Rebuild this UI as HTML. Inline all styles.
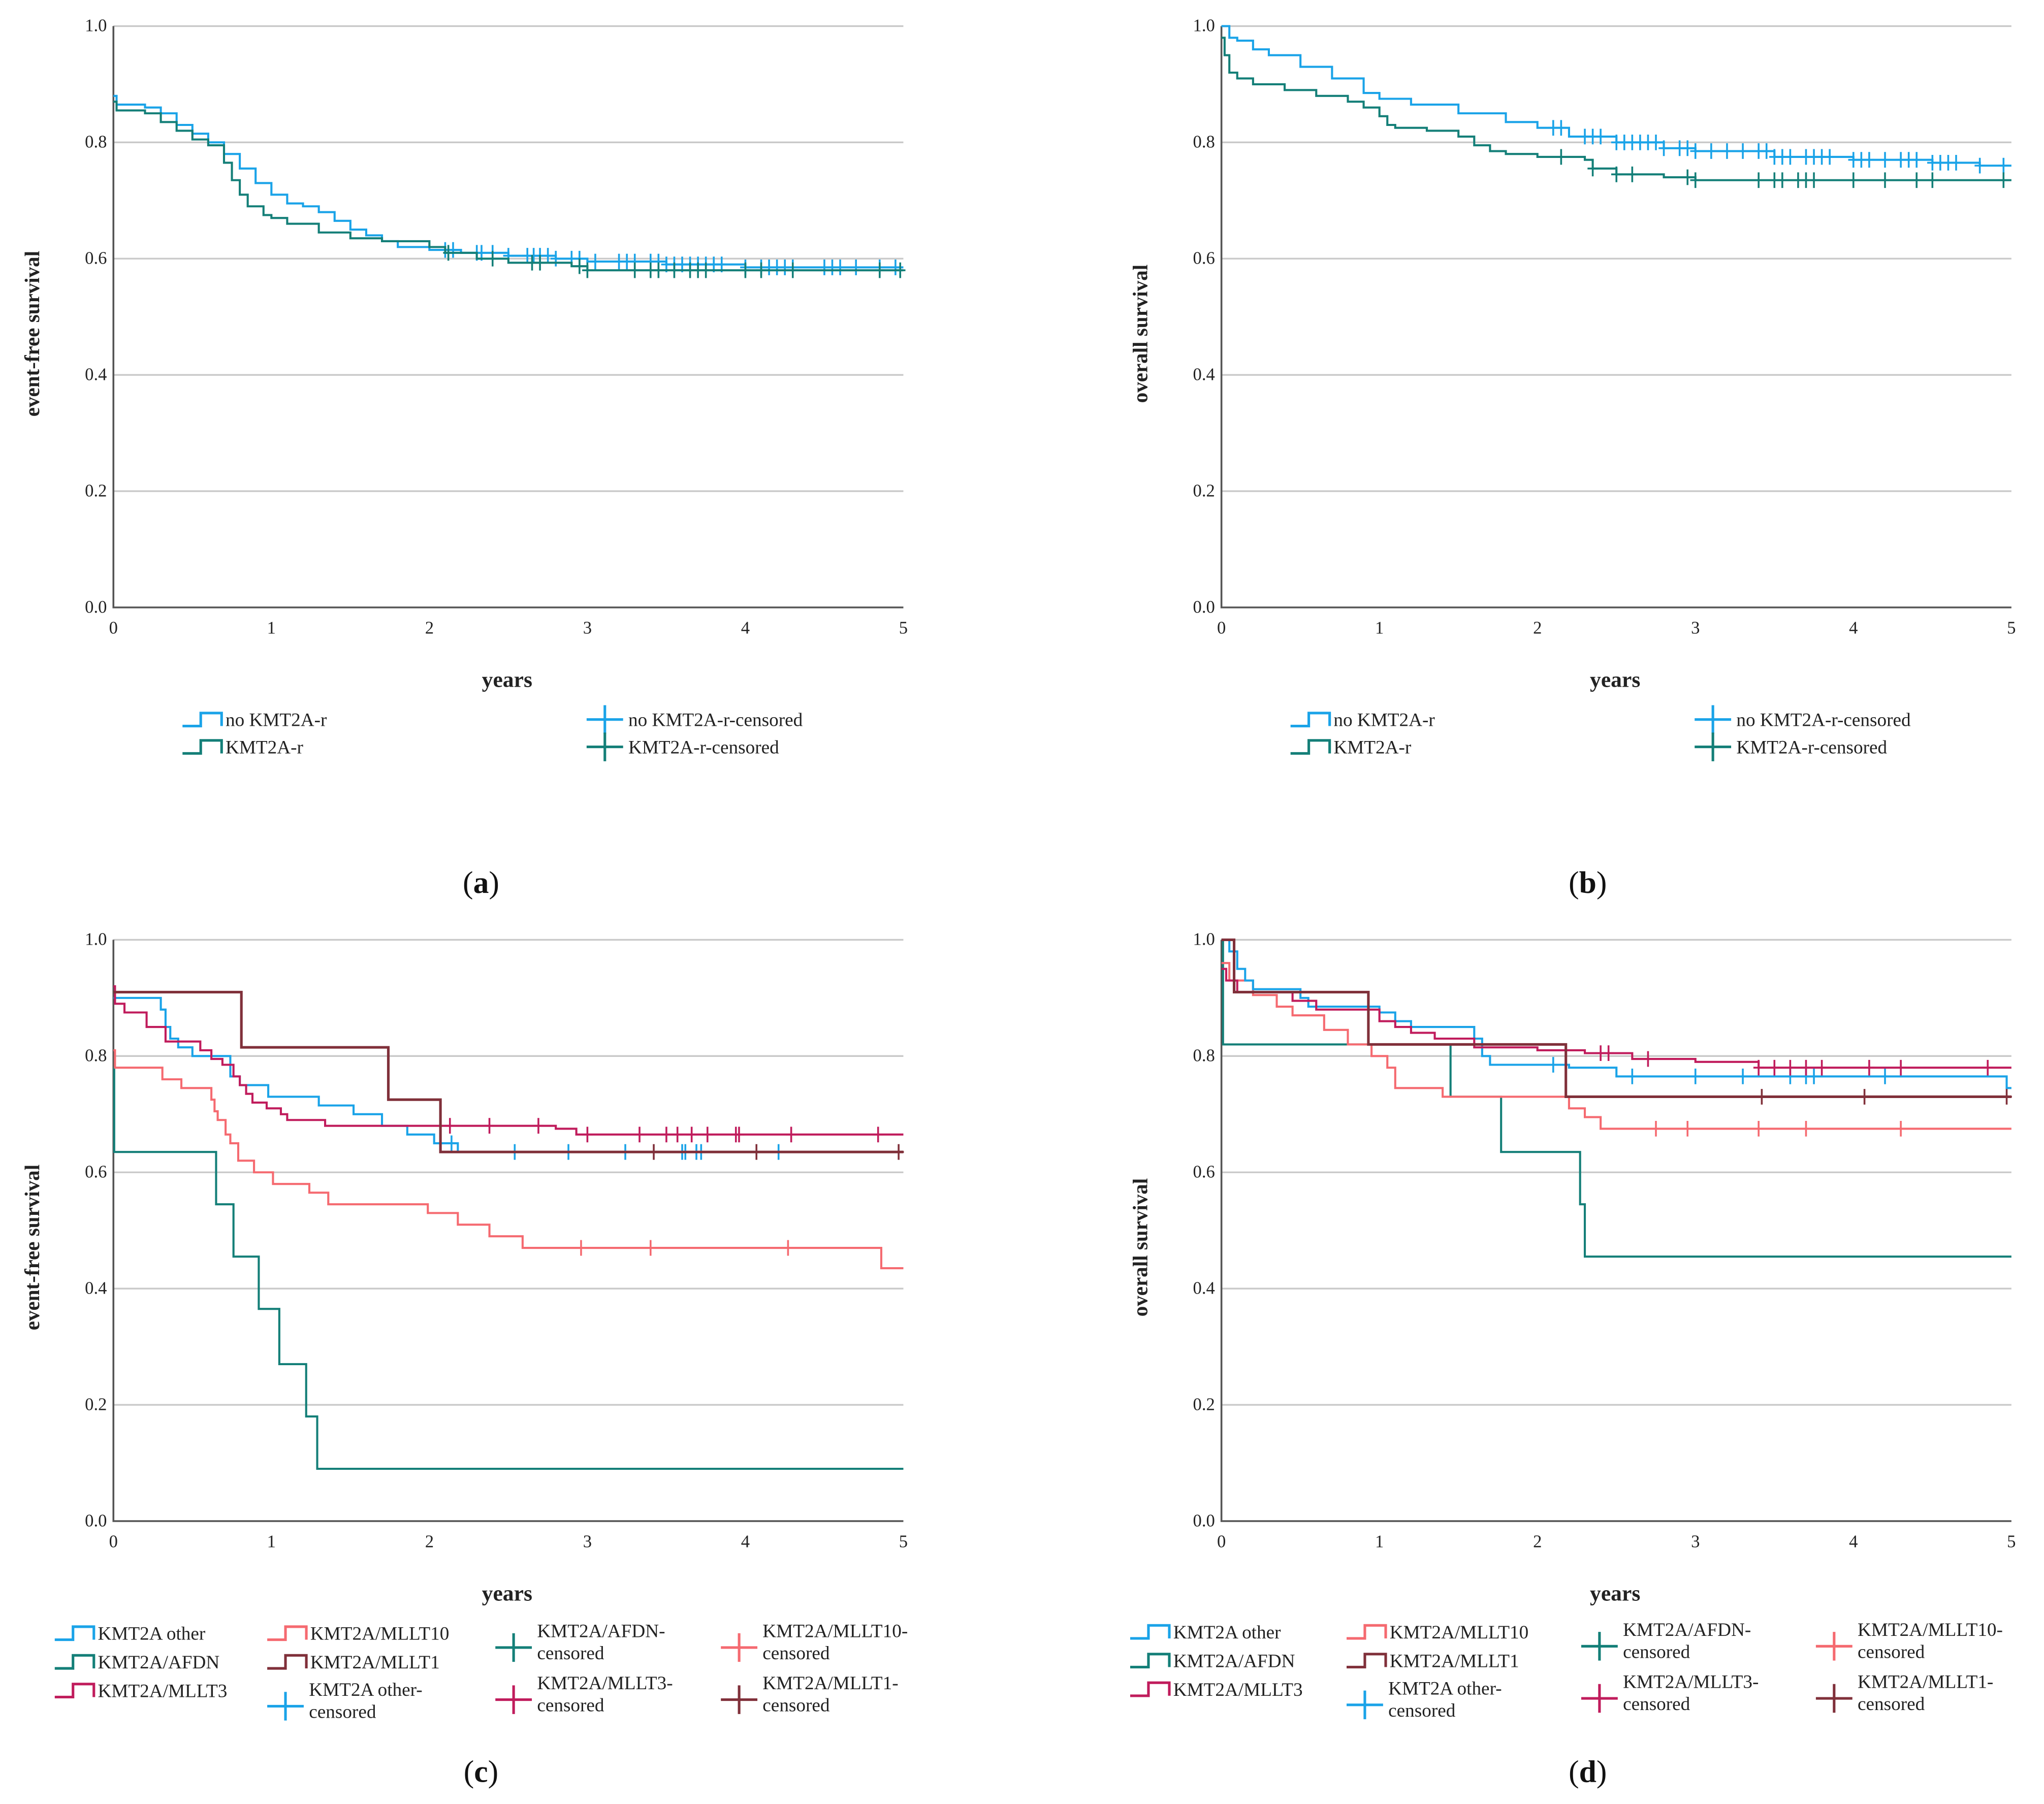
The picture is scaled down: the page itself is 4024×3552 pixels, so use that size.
<!DOCTYPE html>
<html><head><meta charset="utf-8"><style>
html,body{margin:0;padding:0;background:#fff;}
svg{display:block;font-family:"Liberation Serif",serif;}
</style></head><body>
<svg id="fig" width="4024" height="3552" viewBox="0 0 1568 1384" xmlns="http://www.w3.org/2000/svg"></svg>
<script>
// ---------- DATA ----------
const yTicks = [0.0, 0.2, 0.4, 0.6, 0.8, 1.0];
const yTickLabels = ["0.0","0.2","0.4","0.6","0.8","1.0"];
const xTicks = [0,1,2,3,4,5];
const xTickLabels = ["0","1","2","3","4","5"];

// Panel a (event-free survival)
const aNoT = [0,0.02,0.2,0.3,0.4,0.5,0.6,0.7,0.8,0.9,1.0,1.1,1.2,1.3,1.4,1.5,1.6,1.7,1.8,2.0,2.2,2.5,2.8,3.0,3.5,4.0];
const aNoS = [0.88,0.865,0.86,0.85,0.83,0.815,0.80,0.78,0.755,0.73,0.71,0.695,0.69,0.68,0.665,0.65,0.64,0.63,0.62,0.615,0.61,0.605,0.60,0.595,0.59,0.585];
const aNoC = [2.1,2.15,2.3,2.33,2.4,2.5,2.62,2.66,2.7,2.75,2.8,2.9,2.95,3.05,3.2,3.25,3.3,3.4,3.45,3.5,3.55,3.6,3.65,3.7,3.75,3.8,3.85,4.0,4.1,4.15,4.2,4.25,4.3,4.5,4.55,4.6,4.7,4.85,4.95];
const aKT = [0,0.02,0.2,0.3,0.4,0.5,0.6,0.7,0.75,0.8,0.85,0.95,1.0,1.1,1.3,1.5,1.7,2.0,2.1,2.3,2.5,2.9,3.0];
const aKS = [0.87,0.855,0.85,0.835,0.82,0.805,0.795,0.765,0.735,0.71,0.69,0.675,0.67,0.66,0.645,0.635,0.63,0.62,0.61,0.60,0.593,0.587,0.58];
const aKC = [2.12,2.4,2.65,2.7,2.95,3.0,3.3,3.4,3.45,3.55,3.65,3.7,3.75,4.0,4.1,4.3,4.85,4.98];

// Panel b (overall survival)
const bNoT = [0,0.05,0.1,0.2,0.3,0.5,0.7,0.9,1.0,1.2,1.5,1.8,2.0,2.2,2.5,2.8,3.0,3.5,4.0,4.5,4.8];
const bNoS = [1.0,0.98,0.975,0.96,0.95,0.93,0.91,0.885,0.875,0.865,0.85,0.835,0.825,0.81,0.80,0.79,0.785,0.775,0.77,0.765,0.76];
const bNoC = [2.1,2.15,2.3,2.35,2.4,2.5,2.55,2.6,2.65,2.7,2.75,2.8,2.9,2.95,3.0,3.1,3.2,3.3,3.4,3.45,3.5,3.55,3.6,3.7,3.75,3.8,3.85,4.0,4.05,4.1,4.2,4.3,4.35,4.4,4.5,4.55,4.6,4.65,4.8,4.95];
const bKT = [0,0.02,0.05,0.1,0.2,0.4,0.6,0.8,0.9,1.0,1.05,1.1,1.3,1.5,1.6,1.7,1.8,2.0,2.3,2.35,2.5,2.8,3.0];
const bKS = [0.98,0.95,0.92,0.91,0.90,0.89,0.88,0.87,0.86,0.845,0.83,0.825,0.82,0.81,0.795,0.785,0.78,0.775,0.77,0.755,0.745,0.74,0.735];
const bKC = [2.15,2.35,2.5,2.6,2.95,3.0,3.4,3.5,3.55,3.65,3.7,3.75,4.0,4.2,4.4,4.5,4.95];

// Panel c (event-free survival by partner)
const cOtherT = [0,0.3,0.33,0.36,0.41,0.5,0.63,0.74,0.8,0.98,1.3,1.52,1.7,1.86,2.03,2.18];
const cOtherS = [0.90,0.88,0.85,0.83,0.815,0.80,0.80,0.765,0.75,0.73,0.715,0.70,0.68,0.665,0.65,0.635];
const cOtherC = [2.14,2.54,2.88,3.24,3.60,3.62,3.69,3.72,4.21];
const cAfdnT = [0,0.005,0.65,0.76,0.92,1.05,1.22,1.29];
const cAfdnS = [0.78,0.635,0.545,0.455,0.365,0.27,0.18,0.09];
const cAfdnC = [];
const cMllt3T = [0,0.01,0.07,0.21,0.33,0.55,0.62,0.69,0.76,0.8,0.84,0.88,0.97,1.06,1.1,1.34,2.8,2.93];
const cMllt3S = [0.92,0.89,0.875,0.85,0.825,0.81,0.795,0.785,0.765,0.75,0.735,0.72,0.71,0.70,0.69,0.68,0.675,0.665];
const cMllt3C = [2.13,2.38,2.69,3.0,3.33,3.5,3.57,3.66,3.76,3.94,3.96,4.29,4.84];
const cMllt10T = [0,0.01,0.31,0.43,0.62,0.64,0.66,0.71,0.74,0.79,0.89,1.01,1.24,1.36,1.99,2.18,2.38,2.59,4.86];
const cMllt10S = [0.81,0.78,0.76,0.745,0.725,0.705,0.69,0.665,0.65,0.62,0.60,0.58,0.565,0.545,0.53,0.51,0.49,0.47,0.435];
const cMllt10C = [2.96,3.40,4.27];
const cMllt1T = [0,0.81,1.74,2.07];
const cMllt1S = [0.91,0.815,0.725,0.635];
const cMllt1C = [3.42,4.07,4.97];

// Panel d (overall survival by partner)
const dOtherT = [0,0.05,0.1,0.15,0.2,0.5,0.55,1.0,1.1,1.2,1.6,1.65,1.7,2.2,2.5,4.97];
const dOtherS = [1.0,0.98,0.95,0.93,0.915,0.90,0.885,0.875,0.86,0.85,0.83,0.80,0.785,0.78,0.765,0.745];
const dOtherC = [2.1,2.6,3.0,3.3,3.6,3.7,3.75,4.2];
const dAfdnT = [0,0.01,1.45,1.77,2.27,2.3];
const dAfdnS = [1.0,0.82,0.73,0.635,0.545,0.455];
const dAfdnC = [];
const dMllt3T = [0,0.03,0.1,0.45,0.6,1.0,1.1,1.2,1.35,1.6,2.0,2.3,2.6,3.0,3.4];
const dMllt3S = [0.95,0.93,0.91,0.895,0.88,0.86,0.85,0.84,0.83,0.815,0.81,0.805,0.795,0.79,0.78];
const dMllt3C = [2.4,2.45,2.7,3.4,3.5,3.6,3.7,3.8,4.1,4.3,4.85];
const dMllt10T = [0,0.05,0.2,0.35,0.45,0.65,0.8,0.95,1.05,1.1,1.4,2.2,2.3,2.4];
const dMllt10S = [0.96,0.93,0.905,0.885,0.87,0.845,0.82,0.80,0.78,0.745,0.73,0.71,0.695,0.675];
const dMllt10C = [2.75,2.95,3.4,3.7,4.3];
const dMllt1T = [0,0.08,0.93,2.18];
const dMllt1S = [1.0,0.91,0.82,0.73];
const dMllt1C = [3.42,4.07,4.97];

// ---------- DRAW ----------
const NS = "http://www.w3.org/2000/svg";
const svg = document.getElementById('fig');
const BLUE="#1aa3e8", TEAL="#147f78", SALMON="#f56a70", BROWN="#80303a", MAG="#c01c5c";

function mk(tag, attrs, parent){
  const e=document.createElementNS(NS,tag);
  for(const k in attrs) e.setAttribute(k,attrs[k]);
  (parent||svg).appendChild(e);
  return e;
}

function panel(id, x0, top, ytitle, series){
  const W=606, H=446, bottom=top+H;
  const xs = t => x0 + t/5*W;
  const ys = s => bottom - s*H;
  const g = mk('g',{});
  
  
  yTicks.forEach((v,i)=>{
    if(v>0){
      const l=mk('line',{x1:x0,x2:x0+W,y1:ys(v),y2:ys(v),stroke:'#c9c9c9','stroke-width':1.3},g);
      
      
    }
    const t=mk('text',{x:x0-5,y:ys(v)+4,'text-anchor':'end','font-size':13.5,fill:'#222'},g);
    
    
    t.textContent=yTickLabels[i];
  });
  xTicks.forEach((v,i)=>{
    const t=mk('text',{x:xs(v),y:bottom+20,'text-anchor':'middle','font-size':13.5,fill:'#222'},g);
    
    
    t.textContent=xTickLabels[i];
  });
  const ax=mk('path',{d:`M${x0},${top} V${bottom} H${x0+W}`,fill:'none',stroke:'#555','stroke-width':1.4},g);
  
  
  const xt=mk('text',{x:x0+302,y:bottom+61,'text-anchor':'middle','font-size':17,'font-weight':'bold',fill:'#222'},g);
  
  
  xt.textContent='years';
  const cy=top+H/2+13;
  const yt=mk('text',{x:0,y:0,transform:`translate(${x0-57},${cy}) rotate(-90)`,'text-anchor':'middle','font-size':16,'font-weight':'bold',fill:'#222'},g);
  
  
  yt.textContent=ytitle;
  series.forEach(sr=>{
    let d=`M${xs(sr.t[0])},${ys(sr.s[0])}`;
    for(let i=1;i<sr.t.length;i++) d+=` H${xs(sr.t[i])} V${ys(sr.s[i])}`;
    d+=` H${xs(5)}`;
    const p=mk('path',{d:d,fill:'none',stroke:sr.c,'stroke-width':sr.w||1.6},g);
    
    
    sr.cen.forEach(ct=>{
      let sv=sr.s[0];
      for(let i=0;i<sr.t.length;i++) if(sr.t[i]<=ct) sv=sr.s[i];
      const m=mk('path',{d:`M${xs(ct)},${ys(sv)-6} V${ys(sv)+6} M${xs(ct)-4},${ys(sv)} H${xs(ct)+4}`,stroke:sr.c,'stroke-width':1.4,fill:'none'},g);
      
      
    });
  });
}

function legLine(x,y,c,label,lx){
  const p=mk('path',{d:`M${x},${y+5} H${x+14} V${y-5} H${x+30} V${y+5}`,fill:'none',stroke:c,'stroke-width':2});
  
  
  const t=mk('text',{x:lx||x+33,y:y+5,'font-size':14.5,fill:'#222'});
  
  
  t.textContent=label;
}
function legCross(x,y,c,lines,lx){
  const p=mk('path',{d:`M${x},${y} H${x+28} M${x+14},${y-11} V${y+11}`,fill:'none',stroke:c,'stroke-width':2});
  
  
  lines.forEach((ln,i)=>{
    const t=mk('text',{x:lx||x+32,y:y+5+(lines.length>1?(i*17-13):0),'font-size':14.5,fill:'#222'});
    
    
    t.textContent=ln;
  });
}
function label(x,y,s){
  const t=mk('text',{x:x,y:y,'text-anchor':'middle','font-size':24,fill:'#111'});
  
  
  t.innerHTML=s;
}

panel('a',87,20,'event-free survival',[
  {n:'no-kmt2a-r',t:aNoT,s:aNoS,cen:aNoC,c:BLUE},
  {n:'kmt2a-r',t:aKT,s:aKS,cen:aKC,c:TEAL}]);
panel('b',937,20,'overall survival',[
  {n:'no-kmt2a-r',t:bNoT,s:bNoS,cen:bNoC,c:BLUE},
  {n:'kmt2a-r',t:bKT,s:bKS,cen:bKC,c:TEAL}]);
panel('c',87,721,'event-free survival',[
  {n:'kmt2a-afdn',t:cAfdnT,s:cAfdnS,cen:cAfdnC,c:TEAL},
  {n:'kmt2a-mllt10',t:cMllt10T,s:cMllt10S,cen:cMllt10C,c:SALMON},
  {n:'kmt2a-other',t:cOtherT,s:cOtherS,cen:cOtherC,c:BLUE},
  {n:'kmt2a-mllt3',t:cMllt3T,s:cMllt3S,cen:cMllt3C,c:MAG},
  {n:'kmt2a-mllt1',t:cMllt1T,s:cMllt1S,cen:cMllt1C,c:BROWN,w:2}]);
panel('d',937,721,'overall survival',[
  {n:'kmt2a-afdn',t:dAfdnT,s:dAfdnS,cen:dAfdnC,c:TEAL},
  {n:'kmt2a-mllt10',t:dMllt10T,s:dMllt10S,cen:dMllt10C,c:SALMON},
  {n:'kmt2a-other',t:dOtherT,s:dOtherS,cen:dOtherC,c:BLUE},
  {n:'kmt2a-mllt3',t:dMllt3T,s:dMllt3S,cen:dMllt3C,c:MAG},
  {n:'kmt2a-mllt1',t:dMllt1T,s:dMllt1S,cen:dMllt1C,c:BROWN,w:2}]);

// legends a/b
[[140,450],[990,1300]].forEach(([a,b])=>{
  legLine(a,552,BLUE,'no KMT2A-r');
  legLine(a,573,TEAL,'KMT2A-r');
  legCross(b,552,BLUE,['no KMT2A-r-censored']);
  legCross(b,573,TEAL,['KMT2A-r-censored']);
});
// legends c/d
[[42,205,380,553,1253],[867,1033,1213,1393,1252]].forEach(([c1,c2,c3,c4,y])=>{
  legLine(c1,y,BLUE,'KMT2A other');
  legLine(c1,y+22,TEAL,'KMT2A/AFDN');
  legLine(c1,y+44,MAG,'KMT2A/MLLT3');
  legLine(c2,y,SALMON,'KMT2A/MLLT10');
  legLine(c2,y+22,BROWN,'KMT2A/MLLT1');
  legCross(c2,y+56,BLUE,['KMT2A other-','censored']);
  legCross(c3,y+11,TEAL,['KMT2A/AFDN-','censored']);
  legCross(c3,y+51,MAG,['KMT2A/MLLT3-','censored']);
  legCross(c4,y+11,SALMON,['KMT2A/MLLT10-','censored']);
  legCross(c4,y+51,BROWN,['KMT2A/MLLT1-','censored']);
});

label(369,685,'(<tspan font-weight="bold">a</tspan>)');
label(1218,685,'(<tspan font-weight="bold">b</tspan>)');
label(369,1367,'(<tspan font-weight="bold">c</tspan>)');
label(1218,1367,'(<tspan font-weight="bold">d</tspan>)');
</script>
</body></html>
